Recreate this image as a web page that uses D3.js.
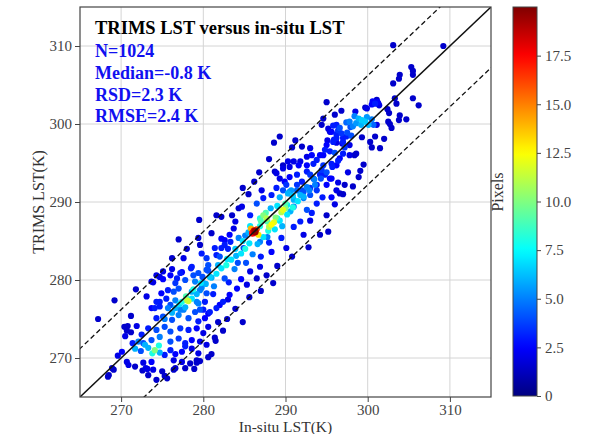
<!DOCTYPE html>
<html><head><meta charset="utf-8">
<script src="https://cdn.jsdelivr.net/npm/d3@7"></script>
<style>body{margin:0;background:#fff}svg{display:block}text{font-family:"Liberation Serif","Times New Roman",serif}</style>
</head><body><svg id="c" width="593" height="434"></svg>
<script>
// ---- data ----
const xTicks = [270, 280, 290, 300, 310];
const yTicks = [270, 280, 290, 300, 310];
const cbTicks = [0, 2.5, 5, 7.5, 10, 12.5, 15, 17.5];
const stats = ["N=1024", "Median=-0.8 K", "RSD=2.3 K", "RMSE=2.4 K"];
const bandOffsets = [6.2, -7.8];   // dashed lines: y = x + offset
const pixelMax = 20;
// in-situ LST, TRIMS LST, pixel density (parallel lists)
const insitu = [
303.1,309.2,305.3,305.5,305.5,303.9,303.8,303.1,305.5,306.2,
303.3,303.5,300.6,300.9,301.2,300.5,301.4,299.7,302.6,303.9,
303.8,304.7,302.5,302.7,301.1,300.3,296.8,296.0,298.4,298.9,
299.3,299.7,300.1,299.2,298.6,298.2,297.8,299.9,300.5,300.7,
297.4,297.9,301.1,301.3,302.4,302.9,295.0,298.5,299.9,300.9,
295.4,296.2,296.6,295.8,297.0,297.5,296.2,295.9,295.1,296.9,
289.3,294.4,295.2,295.6,296.2,296.4,296.8,297.4,297.0,297.8,
296.2,295.8,295.0,294.8,295.4,294.2,293.8,293.4,294.6,295.6,
296.2,296.6,297.8,298.4,291.2,292.0,292.6,293.2,291.8,292.6,
291.0,290.5,289.7,288.9,289.3,289.9,290.5,291.4,292.0,293.0,
293.4,294.2,293.8,293.0,292.2,291.4,290.5,289.7,288.9,295.4,
296.2,296.6,297.2,294.4,294.8,290.3,290.9,290.7,294.6,299.1,
288.6,290.8,293.0,294.6,288.7,287.1,287.3,288.3,290.1,291.4,
292.0,290.6,291.0,292.2,293.0,293.8,295.0,295.6,292.6,291.6,
290.3,289.7,286.5,284.7,282.2,281.6,291.8,293.0,295.0,295.2,
294.2,292.2,290.1,288.3,282.2,282.6,283.3,284.9,286.9,281.6,
286.3,286.2,288.3,289.7,287.3,285.7,286.9,287.8,289.0,289.0,
290.2,290.6,289.6,287.8,285.1,285.5,284.3,289.3,288.2,291.0,
279.5,279.4,279.6,277.6,276.2,275.1,276.0,276.8,277.2,274.3,
273.7,278.6,278.8,279.8,280.4,280.6,281.4,282.2,282.6,283.2,
283.7,283.9,284.3,285.7,286.9,286.9,287.7,288.5,286.5,285.7,
285.3,284.1,283.2,282.4,281.6,280.8,279.6,279.2,277.6,276.0,
274.7,274.1,276.4,278.2,281.0,281.6,282.2,282.8,283.4,284.0,
284.6,285.1,285.6,280.3,279.8,279.2,279.9,281.3,282.6,283.8,
284.2,282.0,280.6,283.0,285.2,286.0,286.6,287.3,287.9,288.7,
289.3,290.2,290.9,291.5,292.2,292.9,293.6,294.3,295.0,295.7,
296.4,297.0,290.0,288.8,287.7,285.5,286.2,284.8,288.0,286.8,
292.6,293.8,294.5,296.0,297.0,298.2,298.9,299.5,297.6,296.4,
295.6,293.2,291.0,289.5,288.0,287.0,298.6,300.5,299.3,302.0,
301.5,283.5,281.0,278.0,277.0,290.8,292.8,289.0,284.6,283.1,
276.2,277.4,278.5,279.4,280.4,274.7,273.9,275.1,277.8,279.0,
280.0,276.6,271.8,275.7,277.0,278.6,279.6,280.4,274.9,269.2,
273.1,274.3,275.5,276.6,277.4,278.0,278.6,279.4,280.2,273.7,
274.7,275.7,276.6,277.2,277.8,279.0,280.0,280.6,267.2,271.2,
274.3,275.1,276.2,277.0,278.2,279.4,280.2,270.4,270.8,270.7,
273.3,274.3,275.3,276.0,277.2,278.2,279.2,280.0,280.6,272.1,
272.7,273.7,274.7,276.0,277.0,277.8,278.6,279.6,280.4,271.7,
273.3,274.1,274.7,276.0,276.6,277.4,278.6,279.4,277.8,270.7,
270.9,272.7,273.7,275.3,276.4,277.4,279.2,279.6,278.4,268.9,
269.1,271.7,272.6,273.2,273.9,275.0,276.6,277.8,268.5,268.4,
275.3,274.3,273.3,279.2,278.9,280.6,281.5,281.4,283.9,276.4,
275.6,271.4,272.4,273.0,270.5,271.2,269.6,270.1,272.5,271.9,
282.4,281.8,282.9,281.0,283.0,282.0,281.2,284.8,285.6,287.0,
286.0,286.5,285.8,286.7,288.6,288.0,289.5,290.0,287.6,287.0,
284.8,283.9,282.9,281.8,280.8,279.7,278.8,277.9,277.1,276.2,
275.3,274.6,273.8,272.9,291.8,292.6,293.5,296.0,297.2,298.0
];
const trims = [
310.1,310.0,307.3,306.8,306.3,306.3,305.8,305.2,303.3,302.4,
303.3,302.6,302.9,302.6,302.8,302.5,302.4,302.1,301.4,301.1,
300.5,300.6,300.3,300.0,299.9,297.7,301.7,301.2,301.0,300.7,
300.5,300.3,299.9,299.9,300.1,299.7,300.3,300.9,300.6,299.9,
300.2,299.6,303.1,302.6,301.9,299.5,302.8,301.6,302.0,298.4,
299.0,298.7,299.5,299.8,298.2,298.9,297.6,298.0,297.9,297.5,
298.4,299.9,299.4,299.0,299.9,299.2,298.8,298.4,297.7,297.3,
298.2,297.7,297.3,296.7,296.5,296.0,295.4,294.9,294.7,294.9,
294.7,295.6,296.0,296.0,297.9,297.1,295.8,296.0,295.2,294.7,
295.2,294.5,294.7,293.7,293.0,292.6,293.2,293.5,292.6,293.5,
293.0,293.5,292.2,291.8,291.3,291.5,291.3,291.5,291.8,293.0,
291.5,291.1,292.2,294.1,293.5,291.1,290.8,291.5,300.7,294.0,
297.6,297.0,296.9,296.0,293.9,291.5,290.5,290.9,292.2,292.2,
291.5,291.1,290.3,290.5,290.9,291.5,292.2,293.0,293.9,294.7,
295.2,294.3,289.8,289.4,288.1,288.3,287.5,287.6,288.3,286.2,
285.8,285.8,284.1,283.6,285.3,284.5,284.9,284.1,284.9,283.2,
286.2,286.3,287.1,289.0,288.3,286.9,286.9,287.5,287.9,289.5,
289.6,288.8,286.9,285.5,285.7,286.1,285.4,290.6,289.2,289.4,
287.7,285.4,284.5,282.8,282.8,281.1,280.6,280.2,280.9,280.6,
279.8,281.7,280.6,283.4,282.8,281.9,284.1,284.1,285.1,285.8,
286.6,287.5,289.2,288.3,287.9,281.7,280.6,279.6,280.2,281.1,
279.4,278.9,278.1,277.2,276.4,275.9,276.2,277.2,276.2,276.8,
277.2,276.4,278.5,277.3,280.3,280.8,281.5,281.9,282.6,283.1,
283.4,284.0,284.7,279.5,279.0,278.2,280.4,279.2,280.2,281.4,
282.2,283.0,281.2,284.0,282.2,283.3,284.6,285.5,286.3,286.5,
287.6,288.4,289.3,290.1,290.7,291.5,292.2,293.0,293.8,294.5,
295.3,296.2,289.8,288.0,287.9,291.0,292.6,291.8,295.5,293.8,
289.0,289.8,290.6,289.7,291.0,292.0,293.2,294.8,293.8,292.5,
290.6,288.6,286.8,285.4,284.8,283.0,296.2,297.0,298.3,298.1,
296.9,288.3,286.0,284.0,285.2,283.0,284.2,281.8,280.1,279.7,
281.4,281.0,281.5,280.9,281.3,280.4,279.7,280.1,280.0,279.8,
279.6,279.6,278.8,278.7,278.9,278.5,278.7,278.3,278.3,277.4,
277.9,277.2,277.6,277.4,277.2,277.4,277.6,277.0,277.2,276.4,
276.6,276.4,276.4,276.2,276.5,275.9,276.2,275.7,275.0,275.4,
275.1,275.3,274.9,275.5,275.1,274.7,275.1,274.0,274.1,273.5,
273.8,273.6,274.0,273.4,273.8,273.6,273.8,273.2,274.0,272.1,
271.9,272.3,272.7,272.1,272.5,271.9,272.3,272.1,271.7,271.2,
271.3,271.0,270.7,271.0,270.5,270.8,271.2,270.6,271.5,269.5,
269.1,269.4,269.5,270.4,269.7,269.5,269.7,269.6,269.3,268.7,
268.5,268.9,268.4,268.6,268.5,268.3,268.7,268.7,267.8,267.6,
267.7,267.2,267.8,269.4,268.6,270.1,272.2,272.6,276.3,268.5,
267.4,271.9,270.9,268.7,272.8,273.3,270.3,270.8,273.0,274.1,
273.5,274.6,275.0,270.5,277.5,276.8,278.2,274.6,277.8,278.6,
286.0,286.5,286.6,285.8,287.4,286.8,288.7,289.2,288.6,287.6,
285.0,284.0,282.7,281.9,280.4,279.6,278.8,277.9,276.9,275.8,
275.0,271.6,270.6,271.7,290.9,291.9,292.9,296.3,297.0,298.5
];
const pixels = [
1.5,1.5,1.5,1.5,1.5,1.5,1.5,1.5,1.5,1.5,
1.5,1.5,2.5,3,2.5,2.5,2,1.5,1.5,1.5,
1.5,1.5,1.5,1.5,2,1.5,1.5,1.5,5,6,
6.5,6.5,6,6,5.5,5,5,5.5,5,4.5,
4.5,4,1.5,1.5,1.5,1.5,1.5,2,2,1.5,
2,3,4,3,3,4,2,3,2,2,
1.5,1.5,2,2.5,3,3.5,3.5,3,3,2,
3,3,2.5,3,3,2.5,3,3,3.5,3,
2.5,2.5,2,1.5,1.5,1.5,2,2.5,2,2.5,
2,2,1.5,2,2,2.5,2.5,3,3,3.5,
3.5,3,3,3.5,4,4.5,5,4,3,2.5,
2,1.5,1.5,3.5,3,6,6.5,5.5,1.5,1.5,
1.5,1.5,2,2.5,1.5,2,3,3,3.5,3.5,
4,5,6,5,4,3.5,2.5,2.5,3,2.5,
2,2,4,2,1.5,1.5,3,2,1.5,1.5,
1.5,2,2,2.5,2.5,3,3,4,5,3,
19.6,18.5,12.5,12,10,7,8,9,8,7,
7,6,6,5,5,6,5,6,6,5,
1.5,1.5,1.5,2,1.5,2,2.5,3,3,2,
2,3,4,3,3.5,4,3,3,2.5,2.5,
2,2,1.5,3,8,2,1.5,1.5,1.5,2,
2,2.5,2.5,3,3,3,4,5,5,4,
3,3,4,11.5,6,7,7,8,7,6,
7,8,7,6,5,6,4,5,4,5,
4,4,4,3,4,5,6,7,8,7,
7,7,8,7,6,5,5,4,4,3,
3,3,9,10,11,1.5,1.5,1.5,1.5,1.5,
4,3,3,2,1.5,1.5,1.5,1.5,2,2,
2.5,3,3,3,3,3,1.5,1.5,1.5,1.5,
1.5,1.5,1.5,1.5,1.5,1.5,1.5,1.5,2.5,3,
2,2.5,3,4,4,2,2,2.5,4,5,
5,3.5,1.5,3,4,6,5,4,2.5,1.5,
2,3,3,5,8,11,7,5,3,2.5,
3,5,6,5,6,4,3,2.5,1.5,1.5,
3,4,4,5,4,3,2.5,1.5,1.5,1.5,
3,4,4,4,3.5,3,2.5,2,2,5,
4,4,5,4,3.5,3,2.5,2,2,6,
6,10,6,3,2.5,2.5,2,2,3,2,
2,2,2.5,3,2,2,1.5,1.5,1.5,1.5,
1.5,1.5,1.5,2,2,1.5,1.5,1.5,1.5,1.5,
1.5,1.5,1.5,1.5,1.5,1.5,1.5,1.5,1.5,1.5,
1.5,3,4,2,2,1.5,2,2.5,3,2,
1.5,1.5,1.5,1.5,2,2.5,3,1.5,1.5,1.5,
17.5,16,14,13,12,11,11,10,9,9,
7,6.5,7,6,6.5,7,8,9,7,6,
5,8,8,6,6,5,5,4,3.5,4
];

// ---- chart ----
const svg = d3.select("#c");
const L = 80, T = 7, R = 491, B = 397;
const x = d3.scaleLinear().domain([265, 315]).range([L, R]);
const y = d3.scaleLinear().domain([265, 315]).range([B, T]);
const jet = t => {
  const c = v => Math.max(0, Math.min(1, v));
  const r = c(1.5 - Math.abs(4 * t - 3)), g = c(1.5 - Math.abs(4 * t - 2)), b = c(1.5 - Math.abs(4 * t - 1));
  return d3.rgb(r * 255, g * 255, b * 255).toString();
};
const color = v => jet(Math.min(1, v / pixelMax));

svg.append("rect").attr("width", 593).attr("height", 434).attr("fill", "#fff");
const defs = svg.append("defs");
defs.append("clipPath").attr("id", "clip").append("rect")
  .attr("x", L).attr("y", T).attr("width", R - L).attr("height", B - T);

// grid
const grid = svg.append("g").attr("stroke", "#d4d4d4").attr("stroke-width", 1);
xTicks.forEach(v => grid.append("line").attr("x1", x(v)).attr("x2", x(v)).attr("y1", T).attr("y2", B));
yTicks.forEach(v => grid.append("line").attr("y1", y(v)).attr("y2", y(v)).attr("x1", L).attr("x2", R));

// points
const pts = insitu.map((v, i) => ({ a: v, b: trims[i], c: pixels[i] })).sort((p, q) => p.c - q.c);
svg.append("g").attr("clip-path", "url(#clip)").selectAll("circle").data(pts).join("circle")
  .attr("cx", d => x(d.a)).attr("cy", d => y(d.b)).attr("r", d => d.c > 16 ? 3.6 : 3.1)
  .attr("fill", d => color(d.c));

// lines
const lg = svg.append("g").attr("clip-path", "url(#clip)").attr("fill", "none").attr("stroke", "#111");
lg.append("line").attr("x1", x(265)).attr("y1", y(265)).attr("x2", x(315)).attr("y2", y(315)).attr("stroke-width", 1.5);
bandOffsets.forEach(o => lg.append("line")
  .attr("x1", x(255)).attr("y1", y(255 + o)).attr("x2", x(325)).attr("y2", y(325 + o))
  .attr("stroke-width", 1.3).attr("stroke-dasharray", "5,3"));

// frame
svg.append("rect").attr("x", L).attr("y", T).attr("width", R - L).attr("height", B - T)
  .attr("fill", "none").attr("stroke", "#444").attr("stroke-width", 1.2);

// axes
const styleAxis = g => {
  g.select(".domain").remove();
  g.selectAll(".tick line").attr("stroke", "#444");
  g.selectAll(".tick text").attr("fill", "#444").style("font-size", "15px")
    .style("font-family", '"Liberation Serif", serif');
};
svg.append("g").attr("transform", `translate(0,${B})`)
  .call(d3.axisBottom(x).tickValues(xTicks).tickSize(5).tickPadding(2)).call(styleAxis);
svg.append("g").attr("transform", `translate(${L},0)`)
  .call(d3.axisLeft(y).tickValues(yTicks).tickSize(5).tickPadding(3)).call(styleAxis);

svg.append("text").attr("x", (L + R) / 2).attr("y", 432).attr("text-anchor", "middle")
  .attr("fill", "#333").style("font-size", "15.5px").text("In-situ LST(K)");
svg.append("text").attr("transform", `translate(44,${(T + B) / 2}) rotate(-90)`).attr("text-anchor", "middle")
  .attr("fill", "#333").style("font-size", "16px").text("TRIMS LST(K)");

// title and stats
svg.append("text").attr("x", 95).attr("y", 34).attr("fill", "#000")
  .style("font-size", "18.5px").style("font-weight", "bold").text("TRIMS LST versus in-situ LST");
stats.forEach((s, i) => svg.append("text").attr("x", 95).attr("y", 57 + i * 21.8)
  .attr("fill", "#1010f0").style("font-size", "18px").style("font-weight", "bold").text(s));

// colorbar
const cbx = 513, cbw = 24;
const cy = d3.scaleLinear().domain([0, pixelMax]).range([396, 7]);
const grad = defs.append("linearGradient").attr("id", "jet").attr("x1", 0).attr("y1", 1).attr("x2", 0).attr("y2", 0);
d3.range(0, 1.0001, 0.02).forEach(t => grad.append("stop").attr("offset", t).attr("stop-color", jet(t)));
svg.append("rect").attr("x", cbx).attr("y", cy(pixelMax)).attr("width", cbw).attr("height", cy(0) - cy(pixelMax))
  .attr("fill", "url(#jet)").attr("stroke", "#444").attr("stroke-width", 1);
svg.append("g").attr("transform", `translate(${cbx + cbw},0)`)
  .call(d3.axisRight(cy).tickValues(cbTicks).tickFormat(v => v === 0 ? "0" : d3.format(".1f")(v)).tickSize(4).tickPadding(4))
  .call(styleAxis);
svg.append("text").attr("transform", `translate(503,192) rotate(-90)`).attr("text-anchor", "middle")
  .attr("fill", "#333").style("font-size", "16px").text("Pixels");
</script></body></html>
